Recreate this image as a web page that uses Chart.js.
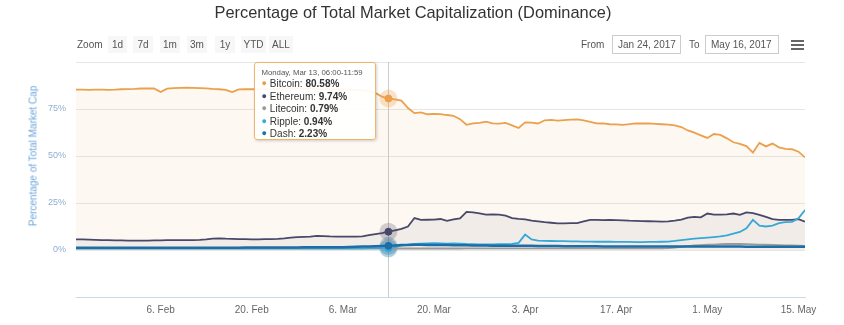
<!DOCTYPE html>
<html>
<head>
<meta charset="utf-8">
<title>Dominance</title>
<script src="https://cdn.jsdelivr.net/npm/chart.js@4"></script>
<style>
  html, body { margin: 0; padding: 0; background: #fff; }
  #wrap { position: relative; width: 844px; height: 325px; overflow: hidden; }
  #chart { position: absolute; left: 0; top: 0; }
  .narrow { font-family: 'Liberation Sans', Arial, sans-serif; }
  #title { position: absolute; left: -9px; width: 844px; top: 3px; text-align: center;
           font-family: 'Liberation Sans', Arial, sans-serif; font-size: 16.4px; color: #333; }
  .tb { position: absolute; top: 36px; height: 17px; line-height: 17px; font-size: 10px; color: #555; white-space: nowrap; }
  .btn { background: #f7f7f7; text-align: center; }
  .inp { border: 1px solid #ccc; background: #fff; padding: 0 0 0 5px; top: 35px; }
  #menu { position: absolute; left: 791px; top: 40px; width: 13px; }
  #menu div { height: 2px; background: #666; margin-bottom: 2px; }
  #ytitle { position: absolute; left: 33px; top: 156px; transform: translate(-50%, -50%) rotate(-90deg);
            white-space: nowrap; font-size: 10px; color: #6ea6da; }
  #tip { position: absolute; display: none; box-sizing: border-box; width: 122px; height: 78px;
         background: rgba(255,255,255,0.92); border: 1px solid #efb46e;
         border-radius: 3px; box-shadow: 1px 1px 3px rgba(0,0,0,0.18); padding: 5px 6px 0 6px;
         font-family: 'Liberation Sans', Arial, sans-serif; color: #333; white-space: nowrap; }
  #tip .head { font-size: 7.8px; line-height: 10px; color: #555; }
  #tip .row { font-size: 10px; line-height: 11.5px; }
  #tip .dot { font-size: 9px; margin-right: 3px; position: relative; top: -1px; }
</style>
</head>
<body>
<div id="wrap">
  <canvas id="chart" width="844" height="325"></canvas>
  <div id="title">Percentage of Total Market Capitalization (Dominance)</div>
  <div class="tb narrow" style="left:77px;">Zoom</div>
  <div class="tb narrow btn" style="left:108px;width:19px;">1d</div>
  <div class="tb narrow btn" style="left:133px;width:20px;">7d</div>
  <div class="tb narrow btn" style="left:160px;width:20px;">1m</div>
  <div class="tb narrow btn" style="left:187px;width:20px;">3m</div>
  <div class="tb narrow btn" style="left:215px;width:20px;">1y</div>
  <div class="tb narrow btn" style="left:241px;width:25px;">YTD</div>
  <div class="tb narrow btn" style="left:269px;width:24px;">ALL</div>
  <div class="tb narrow" style="left:581px;">From</div>
  <div class="tb narrow inp" style="left:612px;width:62px;">Jan 24, 2017</div>
  <div class="tb narrow" style="left:689px;">To</div>
  <div class="tb narrow inp" style="left:705px;width:67px;">May 16, 2017</div>
  <div id="menu"><div></div><div></div><div></div></div>
  <div id="ytitle" class="narrow">Percentage of Total Market Cap</div>
  <div id="tip"></div>
</div>
<script>
// daily values from Jan 24, 2017 (day 0) to May 16, 2017 (day 112), percent of total market cap
var bitcoin = [
  85.3, 85.3, 85.2, 85.3, 85.3, 85.2, 85.3, 85.5, 85.6, 85.7,
  85.9, 86.0, 85.9, 84.0, 85.8, 86.1, 86.2, 86.3, 86.2, 86.1,
  86.0, 85.7, 85.5, 85.2, 84.0, 85.4, 85.5, 85.6, 85.5, 85.6,
  85.7, 85.8, 86.0, 86.1, 86.0, 85.9, 85.8, 85.7, 85.6, 85.5,
  85.4, 85.4, 85.3, 85.2, 85.0, 84.6, 83.5, 81.6, 80.58, 80.1,
  79.5, 75.5, 72.8, 73.2, 72.2, 72.4, 72.3, 71.8, 71.4, 69.6,
  66.6, 67.3, 67.6, 68.3, 67.4, 67.2, 67.6, 66.3, 64.9, 67.9,
  67.8, 67.3, 69.0, 69.2, 68.8, 69.1, 69.4, 69.5, 69.0, 68.2,
  67.4, 67.3, 66.9, 66.8, 66.6, 66.9, 67.3, 67.4, 67.3, 67.1,
  66.9, 66.7, 66.3, 65.4, 63.6, 62.4, 61.0, 59.6, 61.7, 61.2,
  59.4, 57.3, 56.5, 55.3, 51.8, 57.0, 55.1, 56.6, 54.6, 53.8,
  53.6, 52.3, 49.3
];
var ethereum = [
  5.7, 5.6, 5.5, 5.4, 5.3, 5.2, 5.1, 5.1, 5.0, 5.0,
  5.0, 5.0, 5.1, 5.1, 5.2, 5.2, 5.3, 5.3, 5.3, 5.4,
  5.6, 6.1, 6.2, 6.0, 5.9, 5.8, 5.8, 5.7, 5.7, 5.8,
  5.8, 5.9, 6.2, 6.6, 6.9, 7.0, 7.1, 7.5, 7.4, 7.2,
  7.1, 7.1, 7.1, 7.1, 7.2, 7.9, 8.5, 9.0, 9.74, 10.5,
  11.2, 12.5, 17.0, 16.0, 16.1, 16.2, 16.5, 15.5, 16.3, 16.8,
  20.3, 20.0, 19.5, 18.8, 19.0, 18.8, 18.3, 17.0, 16.6, 16.3,
  15.6, 15.2, 14.8, 14.5, 14.2, 14.2, 14.3, 14.3, 15.2, 16.0,
  16.0, 15.9, 16.0, 15.9, 15.8, 15.6, 15.5, 15.4, 15.3, 15.2,
  15.1, 15.2, 15.6, 16.2, 17.2, 17.6, 17.4, 19.4, 18.8, 18.8,
  19.0, 19.4, 18.7, 20.0, 19.6, 18.7, 17.6, 16.4, 16.0, 16.0,
  16.0, 16.4, 15.1
];
var litecoin = [
  0.8, 0.8, 0.8, 0.8, 0.8, 0.8, 0.8, 0.8, 0.8, 0.8,
  0.8, 0.8, 0.8, 0.8, 0.8, 0.8, 0.8, 0.8, 0.8, 0.8,
  0.8, 0.8, 0.8, 0.8, 0.8, 0.8, 0.8, 0.8, 0.8, 0.8,
  0.8, 0.8, 0.8, 0.8, 0.8, 0.8, 0.8, 0.8, 0.8, 0.8,
  0.8, 0.8, 0.8, 0.8, 0.8, 0.8, 0.8, 0.8, 0.79, 0.8,
  0.8, 0.8, 0.8, 0.8, 0.8, 0.8, 0.8, 0.8, 0.8, 0.8,
  0.9, 0.9, 0.9, 0.9, 0.9, 0.9, 0.9, 0.9, 0.9, 0.9,
  0.9, 0.9, 0.9, 0.9, 0.9, 0.9, 0.9, 0.9, 0.9, 0.9,
  0.9, 0.9, 0.9, 0.9, 0.9, 0.9, 0.9, 0.9, 0.9, 0.9,
  0.9, 1.0, 1.3, 1.7, 2.1, 2.4, 2.6, 2.8, 2.9, 3.1,
  3.2, 3.3, 3.2, 3.1, 3.0, 2.9, 2.8, 2.7, 2.6, 2.5,
  2.4, 2.3, 2.2
];
var ripple = [
  0.9, 0.9, 0.9, 0.9, 0.9, 0.9, 0.9, 0.9, 0.9, 0.9,
  0.9, 0.9, 0.9, 0.9, 0.9, 0.9, 0.9, 0.9, 0.9, 0.9,
  0.9, 0.9, 0.9, 0.9, 0.9, 0.9, 0.9, 0.9, 0.9, 0.9,
  0.9, 0.9, 0.9, 0.9, 0.9, 0.9, 0.9, 0.9, 0.9, 0.9,
  0.9, 0.9, 0.9, 0.9, 0.9, 0.95, 0.95, 0.95, 0.94, 1.5,
  2.3, 2.8, 3.2, 3.4, 3.5, 3.6, 3.5, 3.4, 3.5, 3.4,
  3.2, 3.1, 3.0, 3.0, 3.0, 3.1, 3.1, 3.3, 3.8, 8.2,
  5.6, 5.0, 4.9, 4.8, 4.7, 4.7, 4.6, 4.6, 4.5, 4.5,
  4.4, 4.4, 4.4, 4.3, 4.3, 4.3, 4.2, 4.2, 4.3, 4.3,
  4.4, 4.5, 4.8, 5.2, 5.6, 6.0, 6.3, 6.6, 6.9, 7.2,
  7.8, 8.7, 9.6, 11.5, 16.0, 13.0, 12.5, 13.0, 14.3, 14.8,
  15.0, 16.8, 21.3
];
var dash = [
  1.2, 1.2, 1.2, 1.2, 1.2, 1.2, 1.2, 1.2, 1.2, 1.2,
  1.2, 1.2, 1.2, 1.2, 1.2, 1.2, 1.2, 1.2, 1.2, 1.2,
  1.2, 1.2, 1.2, 1.2, 1.2, 1.2, 1.3, 1.3, 1.3, 1.3,
  1.3, 1.3, 1.3, 1.3, 1.3, 1.4, 1.4, 1.4, 1.4, 1.4,
  1.4, 1.5, 1.6, 1.7, 1.8, 1.9, 2.0, 2.1, 2.23, 2.4,
  2.6, 2.7, 2.8, 2.8, 2.7, 2.7, 2.6, 2.6, 2.5, 2.5,
  2.5, 2.4, 2.4, 2.4, 2.3, 2.3, 2.3, 2.2, 2.2, 2.2,
  2.2, 2.1, 2.1, 2.1, 2.1, 2.0, 2.0, 2.0, 2.0, 2.0,
  2.0, 1.9, 1.9, 1.9, 1.9, 1.9, 1.9, 1.9, 1.8, 1.8,
  1.8, 1.8, 1.8, 1.8, 1.8, 1.8, 1.8, 1.8, 1.8, 1.8,
  1.8, 1.8, 1.8, 1.7, 1.7, 1.7, 1.7, 1.7, 1.7, 1.7,
  1.7, 1.7, 1.7
];

var tickDays = [13, 27, 41, 55, 69, 83, 97, 111];
var tickLabels = ['6. Feb', '20. Feb', '6. Mar', '20. Mar', '3. Apr', '17. Apr', '1. May', '15. May'];
var yTicks = [0, 25, 50, 75];

var hoverDay = 48;
var hoverTitle = 'Monday, Mar 13, 06:00-11:59';

var narrow = "'Liberation Sans', Arial, sans-serif";

function points(arr) {
    return arr.map(function (v, i) { return { x: i, y: v }; });
}

var series = [
    { label: 'Bitcoin',  data: bitcoin,  color: '#eba04c', halo: 'rgba(235,160,76,0.3)',  fill: 'rgba(247,163,92,0.08)', order: 4 },
    { label: 'Ethereum', data: ethereum, color: '#48486a', halo: 'rgba(72,72,106,0.25)',  fill: 'rgba(72,72,90,0.07)',   order: 3 },
    { label: 'Litecoin', data: litecoin, color: '#9a9a9a', halo: 'rgba(154,154,154,0.3)', fill: false,                    order: 2 },
    { label: 'Ripple',   data: ripple,   color: '#35a8d8', halo: 'rgba(53,168,216,0.3)',  fill: false,                    order: 1 },
    { label: 'Dash',     data: dash,     color: '#1c6ea8', halo: 'rgba(28,110,168,0.3)',  fill: false,                    order: 0 }
];

var datasets = series.map(function (s) {
    return {
        label: s.label,
        data: points(s.data),
        borderColor: s.color,
        backgroundColor: s.fill || 'transparent',
        fill: s.fill ? 'origin' : false,
        borderWidth: s.label === 'Dash' ? 2.5 : 1.8,
        pointRadius: 0,
        pointHoverRadius: 3.5,
        pointHoverBackgroundColor: s.color,
        pointHoverBorderColor: s.color,
        pointHoverBorderWidth: 1,
        tension: 0,
        order: s.order,
        halo: s.halo
    };
});

// vertical crosshair and soft halos behind the hovered points
var crosshair = {
    id: 'crosshair',
    beforeDatasetsDraw: function (chart) {
        var act = chart.getActiveElements();
        if (!act.length) return;
        var ctx = chart.ctx, area = chart.chartArea;
        var x = act[0].element.x;
        ctx.save();
        ctx.strokeStyle = '#cccccc';
        ctx.lineWidth = 1;
        ctx.beginPath();
        ctx.moveTo(Math.round(x) + 0.5, area.top);
        ctx.lineTo(Math.round(x) + 0.5, area.bottom);
        ctx.stroke();
        act.forEach(function (a) {
            ctx.fillStyle = chart.data.datasets[a.datasetIndex].halo;
            ctx.beginPath();
            ctx.arc(a.element.x, a.element.y, 9, 0, Math.PI * 2);
            ctx.fill();
        });
        ctx.restore();
    }
};

function htmlTooltip(context) {
    var tip = document.getElementById('tip');
    var t = context.tooltip;
    if (!t.dataPoints || !t.dataPoints.length) { tip.style.display = 'none'; return; }
    var pts = t.dataPoints.slice().sort(function (a, b) { return a.datasetIndex - b.datasetIndex; });
    var html = '<div class="head">' + hoverTitle + '</div>';
    pts.forEach(function (p) {
        html += '<div class="row"><span class="dot" style="color:' + p.dataset.borderColor + '">\u25CF</span>' +
            p.dataset.label + ': <b>' + p.parsed.y.toFixed(2) + '%</b></div>';
    });
    tip.innerHTML = html;
    tip.style.display = 'block';
    var area = context.chart.chartArea;
    tip.style.left = (pts[0].element.x - 134) + 'px';
    tip.style.top = area.top + 'px';
}

var ctx = document.getElementById('chart').getContext('2d');
var chart = new Chart(ctx, {
    type: 'line',
    data: { datasets: datasets },
    plugins: [crosshair],
    options: {
        responsive: false,
        animation: false,
        events: [],
        layout: { padding: { top: 62, right: 39, left: 0, bottom: 0 } },
        plugins: {
            legend: { display: false },
            tooltip: { enabled: false, external: htmlTooltip, mode: 'index', intersect: false }
        },
        scales: {
            x: {
                type: 'linear',
                min: 0,
                max: bitcoin.length - 1,
                grid: { display: false, drawTicks: false },
                border: { display: true, color: '#ccd6eb', width: 1 },
                afterBuildTicks: function (scale) {
                    scale.ticks = tickDays.map(function (d) { return { value: d }; });
                },
                afterFit: function (scale) { scale.height = 28; },
                ticks: {
                    autoSkip: false,
                    maxRotation: 0,
                    padding: 7,
                    color: '#666',
                    font: { family: narrow, size: 10 },
                    callback: function (v) {
                        var i = tickDays.indexOf(v);
                        return i >= 0 ? tickLabels[i] : '';
                    }
                }
            },
            y: {
                min: -25,
                max: 100,
                afterBuildTicks: function (scale) {
                    scale.ticks = [-25, 0, 25, 50, 75, 100].map(function (v) { return { value: v }; });
                },
                afterFit: function (scale) { scale.width = 76; },
                grid: { color: '#e6e6e6', drawTicks: false },
                border: { display: false },
                ticks: {
                    padding: 10,
                    color: '#8eaed4',
                    font: { family: narrow, size: 9 },
                    callback: function (v) { return yTicks.indexOf(v) >= 0 ? v + '%' : ''; }
                }
            }
        }
    }
});

var active = series.map(function (s, i) { return { datasetIndex: i, index: hoverDay }; });
chart.setActiveElements(active);
var el = chart.getDatasetMeta(0).data[hoverDay];
chart.tooltip.setActiveElements(active, { x: el.x, y: el.y });
chart.update();
</script>
</body>
</html>
